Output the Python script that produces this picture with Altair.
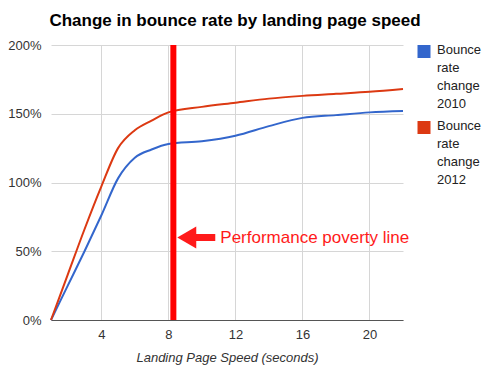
import altair as alt
import pandas as pd

speed = [1, 2, 3, 4, 5, 6, 7, 8, 10, 12, 14, 16, 18, 20, 22]
bounce_2010 = [0, 25, 50, 76, 103, 118, 124, 128, 130, 134, 141, 147, 149, 151, 152]
bounce_2012 = [0, 33, 66, 97, 125, 138, 145, 151, 155, 158, 161, 163, 164.5, 166, 168]
series_names = ["Bounce rate change 2010", "Bounce rate change 2012"]
series_colors = ["#3366cc", "#dc3912"]
poverty_x = [8.3]
annotation = ["Performance poverty line"]

rows = []
for s, v in zip(speed, bounce_2010):
    rows.append({"speed": s, "rate": v / 100, "series": series_names[0]})
for s, v in zip(speed, bounce_2012):
    rows.append({"speed": s, "rate": v / 100, "series": series_names[1]})
df = pd.DataFrame(rows)

FONT = "Liberation Sans"

x_scale = alt.Scale(domain=[1, 22], nice=False, zero=False)
y_scale = alt.Scale(domain=[0, 2], nice=False)

lines = alt.Chart(df).mark_line(strokeWidth=2, interpolate="monotone").encode(
    x=alt.X("speed:Q", scale=x_scale,
            axis=alt.Axis(values=[4, 8, 12, 16, 20], title="Landing Page Speed (seconds)",
                          titleFontStyle="italic", titleFontWeight="normal", titleFontSize=13,
                          titleColor="#333", titlePadding=10,
                          labelFontSize=13, labelColor="#333", ticks=False, labelPadding=8,
                          domainColor="#555", gridColor="#d6d6d6")),
    y=alt.Y("rate:Q", scale=y_scale,
            axis=alt.Axis(values=[0, 0.5, 1, 1.5, 2], format=".0%", title=None,
                          labelFontSize=13, labelColor="#333", ticks=False, labelPadding=10,
                          domain=False, gridColor="#d6d6d6")),
    color=alt.Color("series:N", scale=alt.Scale(domain=series_names, range=series_colors),
                    legend=None),
)

vline_df = pd.DataFrame({"x": poverty_x, "y0": [0], "y1": [2]})
vline = alt.Chart(vline_df).mark_rule(color="#ff0000", strokeWidth=6).encode(
    x=alt.X("x:Q", scale=x_scale), y=alt.Y("y0:Q", scale=y_scale), y2="y1:Q"
)

arrow_df = pd.DataFrame({"x0": [9.6], "x1": [10.8], "y": [0.6]})
shaft = alt.Chart(arrow_df).mark_rule(color="#ff1a1a", strokeWidth=7).encode(
    x=alt.X("x0:Q", scale=x_scale), x2="x1:Q", y=alt.Y("y:Q", scale=y_scale)
)
head_df = pd.DataFrame({"x": [9.1], "y": [0.6]})
head = alt.Chart(head_df).mark_point(shape="triangle-left", filled=True, size=480,
                                     color="#ff1a1a", opacity=1).encode(
    x=alt.X("x:Q", scale=x_scale), y=alt.Y("y:Q", scale=y_scale)
)
text_df = pd.DataFrame({"x": [11.1], "y": [0.6], "t": annotation})
label = alt.Chart(text_df).mark_text(align="left", baseline="middle", fontSize=17,
                                     color="#ff1a1a", font=FONT).encode(
    x=alt.X("x:Q", scale=x_scale), y=alt.Y("y:Q", scale=y_scale), text="t:N"
)

# manual legend (wrapped labels, square swatches)
legend_layers = []
for i, (name, col) in enumerate(zip(series_names, series_colors)):
    ldf = pd.DataFrame({"name": [name]})
    sw = alt.Chart(ldf).mark_square(size=169, color=col, opacity=1).encode(
        x=alt.value(373), y=alt.value(6.5 + 76 * i)
    )
    tx = alt.Chart(ldf).mark_text(align="left", baseline="top", fontSize=13, lineHeight=18,
                                  lineBreak=" ", color="#222", font=FONT).encode(
        x=alt.value(386), y=alt.value(-1 + 76 * i), text="name:N"
    )
    legend_layers += [sw, tx]

chart = alt.layer(lines, vline, shaft, head, label, *legend_layers).properties(
    width=352, height=275,
    padding={"left": 43, "top": 37, "right": 83, "bottom": 49},
    autosize=alt.AutoSizeParams(type="none"),
    title=alt.Title("Change in bounce rate by landing page speed", fontSize=17,
                    fontWeight="bold", color="#000", font=FONT, dx=8, offset=9),
).configure(font=FONT).configure_view(stroke=None)

chart.save("out.html", embed_options={"renderer": "svg", "actions": False})
